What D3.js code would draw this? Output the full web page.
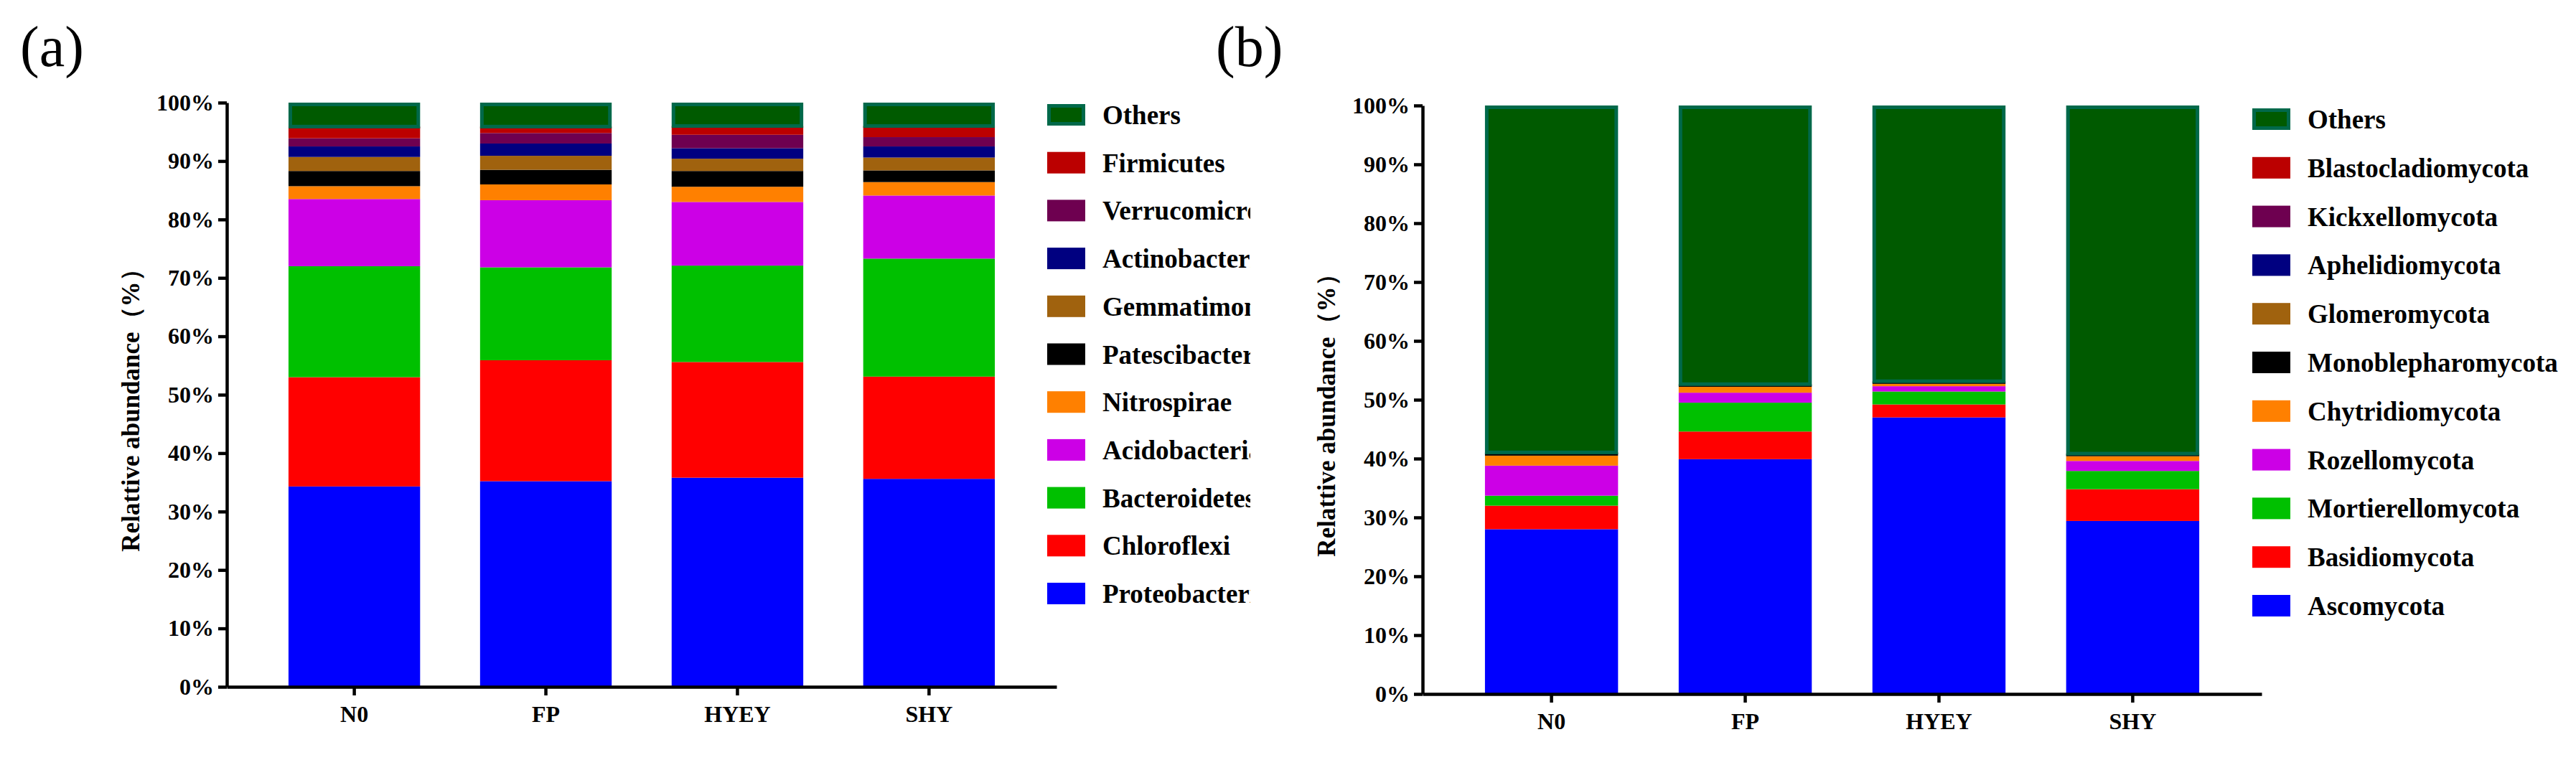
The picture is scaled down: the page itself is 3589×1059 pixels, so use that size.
<!DOCTYPE html>
<html>
<head>
<meta charset="utf-8">
<script src="https://cdn.jsdelivr.net/npm/d3@7"></script>
<style>
  body { margin: 0; background: #fff; }
  text { font-family: "Liberation Serif", "DejaVu Serif", serif; font-weight: bold; fill: #000; }
</style>
</head>
<body>
<script>
// groups on the x axis (same for both panels)
var groups = ["N0", "FP", "HYEY", "SHY"];

// (a) bacteria, bottom -> top of the stack
var bactNames = ["Proteobacteria", "Chloroflexi", "Bacteroidetes", "Acidobacteria", "Nitrospirae",
    "Patescibacteria", "Gemmatimonadetes", "Actinobacteria", "Verrucomicrobia", "Firmicutes", "Others"];
var proteobacteria   = [34.3, 35.2, 35.8, 35.6];
var chloroflexi      = [18.7, 20.7, 19.8, 17.5];
var bacteroidetes    = [19.0, 15.9, 16.5, 20.2];
var acidobacteria    = [11.5, 11.5, 10.9, 10.8];
var nitrospirae      = [2.2, 2.7, 2.6, 2.3];
var patescibacteria  = [2.6, 2.5, 2.7, 2.0];
var gemmatimonadetes = [2.4, 2.4, 2.1, 2.2];
var actinobacteria   = [1.8, 2.1, 1.8, 1.9];
var verrucomicrobia  = [1.4, 1.8, 2.3, 1.6];
var firmicutes       = [2.0, 1.1, 1.5, 1.9];
var bactOthers       = [4.1, 4.1, 4.0, 4.0];

// (b) fungi, bottom -> top of the stack
var fungiNames = ["Ascomycota", "Basidiomycota", "Mortierellomycota", "Rozellomycota", "Chytridiomycota",
    "Monoblepharomycota", "Glomeromycota", "Aphelidiomycota", "Kickxellomycota", "Blastocladiomycota", "Others"];
var ascomycota         = [28.0, 39.9, 47.0, 29.4];
var basidiomycota      = [4.0, 4.7, 2.2, 5.4];
var mortierellomycota  = [1.7, 4.9, 2.2, 3.1];
var rozellomycota      = [5.1, 1.7, 0.9, 1.7];
var chytridiomycota    = [1.7, 1.0, 0.4, 0.8];
var monoblepharomycota = [0.4, 0.3, 0.3, 0.3];
var glomeromycota      = [0.05, 0.05, 0.05, 0.05];
var aphelidiomycota    = [0.05, 0.05, 0.05, 0.05];
var kickxellomycota    = [0.03, 0.03, 0.03, 0.03];
var blastocladiomycota = [0.02, 0.02, 0.02, 0.02];
var fungiOthers        = [58.95, 47.35, 46.85, 59.15];

var yTicks = [0, 10, 20, 30, 40, 50, 60, 70, 80, 90, 100];

// same palette order for both panels
var palette = ["#0000ff", "#ff0000", "#00c000", "#cc00e6", "#ff8000",
    "#000000", "#a0620e", "#000080", "#6e0050", "#bb0000", "#005a00"];
var othersEdge = "#00694a";
var serif = '"Liberation Serif", "DejaVu Serif", serif';

var W = 3589, H = 1059;
var svg = d3.select("body").append("svg")
    .attr("width", W)
    .attr("height", H);

function toRows(names, series){
    return groups.map(function(g, i){
        var row = {group: g};
        names.forEach(function(n, k){ row[n] = series[k][i]; });
        return row;
    });
}

function drawPanel(p){
    var g = svg.append("g");
    var rows = toRows(p.names, p.series);
    var stack = d3.stack().keys(p.names)(rows);

    var x = d3.scaleBand().domain(groups).range([p.x0, p.x1])
        .paddingInner(0.313).paddingOuter(0.322);
    var y = d3.scaleLinear().domain([0, 100]).range([p.y0, p.y1]);
    var color = d3.scaleOrdinal().domain(p.names).range(palette);

    // bars
    stack.forEach(function(layer){
        var isOthers = layer.key == "Others";
        g.append("g").selectAll("rect")
            .data(layer)
            .enter().append("rect")
            .attr("x", function(d){ return x(d.data.group) + (isOthers ? 2.5 : 0); })
            .attr("y", function(d){ return y(d[1]) + (isOthers ? 2.5 : 0); })
            .attr("width", x.bandwidth() - (isOthers ? 5 : 0))
            .attr("height", function(d){ return Math.max(0, y(d[0]) - y(d[1]) - (isOthers ? 2.5 : 0)); })
            .style("fill", color(layer.key))
            .style("stroke", isOthers ? othersEdge : "none")
            .style("stroke-width", isOthers ? 5 : 0);
    });

    // axes
    var yAxis = g.append("g")
        .attr("transform", "translate(" + p.x0 + ",0)")
        .call(d3.axisLeft(y).tickValues(yTicks).tickFormat(function(d){ return d + "%"; })
            .tickSize(12).tickSizeOuter(0).tickPadding(6));
    var xAxis = g.append("g")
        .attr("transform", "translate(0," + p.y0 + ")")
        .call(d3.axisBottom(x).tickSize(12).tickSizeOuter(0).tickPadding(14));

    [yAxis, xAxis].forEach(function(a){
        a.attr("font-family", null).attr("font-size", null);
        a.select(".domain").style("stroke", "#000").style("stroke-width", 4.5);
        a.selectAll(".tick line").style("stroke", "#000").style("stroke-width", 4.5);
        a.selectAll(".tick text")
            .style("font-family", serif)
            .style("font-weight", "bold")
            .style("font-size", "32px");
    });

    // y title
    g.append("text")
        .attr("transform", "translate(" + p.titleX + "," + ((p.y0 + p.y1) / 2 + 13) + ") rotate(-90)")
        .attr("text-anchor", "middle")
        .style("font-size", "35px")
        .text("Relattive abundance（%）");

    // panel letter
    g.append("text")
        .attr("x", p.letterX)
        .attr("y", 92)
        .style("font-size", "80px")
        .style("font-weight", "normal")
        .text(p.letter);

    // legend, Others at the top
    var clipId = "clip" + p.letter.replace(/\W/g, "");
    svg.append("clipPath").attr("id", clipId)
        .append("rect").attr("x", p.legX).attr("y", 0)
        .attr("width", p.legClip - p.legX).attr("height", H);

    var legNames = p.names.slice().reverse();
    var leg = g.append("g");
    legNames.forEach(function(n, i){
        var cy = p.legY0 + i * p.legStep;
        var isOthers = n == "Others";
        leg.append("rect")
            .attr("x", p.legX + (isOthers ? 2.5 : 0))
            .attr("y", cy - 15 + (isOthers ? 2.5 : 0))
            .attr("width", 53 - (isOthers ? 5 : 0))
            .attr("height", 30 - (isOthers ? 5 : 0))
            .style("fill", color(n))
            .style("stroke", isOthers ? othersEdge : "none")
            .style("stroke-width", isOthers ? 5 : 0);
        leg.append("text")
            .attr("x", p.legX + 77)
            .attr("y", cy + 13)
            .attr("clip-path", "url(#" + clipId + ")")
            .style("font-size", "37px")
            .text(n);
    });
}

drawPanel({
    letter: "(a)", letterX: 28,
    names: bactNames,
    series: [proteobacteria, chloroflexi, bacteroidetes, acidobacteria, nitrospirae,
        patescibacteria, gemmatimonadetes, actinobacteria, verrucomicrobia, firmicutes, bactOthers],
    x0: 316, x1: 1472, y0: 957, y1: 143,
    titleX: 194,
    legX: 1459, legY0: 160, legStep: 66.7, legClip: 1742
});

drawPanel({
    letter: "(b)", letterX: 1694,
    names: fungiNames,
    series: [ascomycota, basidiomycota, mortierellomycota, rozellomycota, chytridiomycota,
        monoblepharomycota, glomeromycota, aphelidiomycota, kickxellomycota, blastocladiomycota, fungiOthers],
    x0: 1982, x1: 3151, y0: 967, y1: 147,
    titleX: 1860,
    legX: 3138, legY0: 166, legStep: 67.8, legClip: W
});
</script>
</body>
</html>
